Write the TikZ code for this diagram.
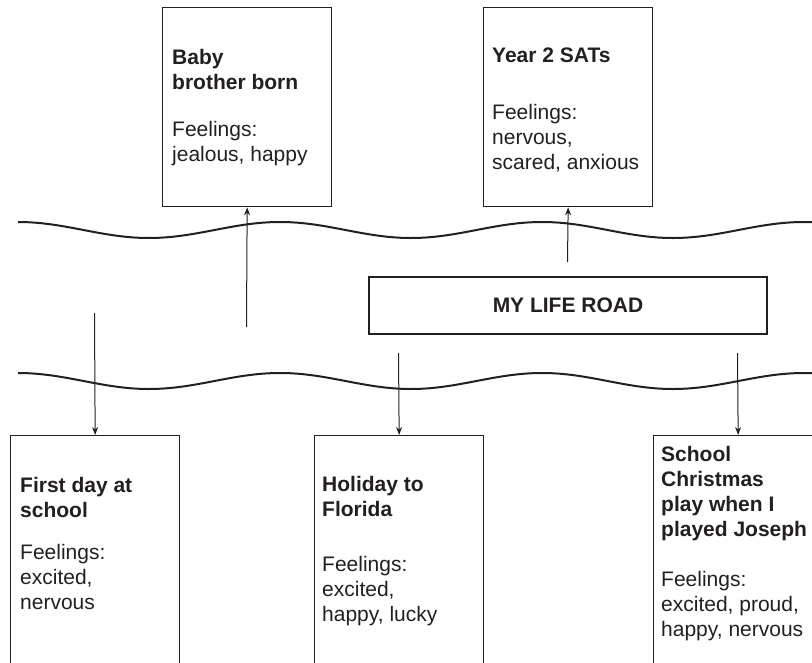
\documentclass[tikz,border=0pt]{standalone}
\usepackage{fontspec}
\setmainfont{Liberation Sans}
\usetikzlibrary{arrows.meta}
\definecolor{ink}{HTML}{231F20}
\begin{document}
\begin{tikzpicture}[x=1pt, y=-1pt,
  card/.style={draw=ink, line width=1.3pt, anchor=north west, inner sep=0pt,
               minimum width=169pt},
  words/.style={anchor=north west, inner sep=0pt, align=left, text=ink,
                font=\fontsize{21}{25}\selectfont},
  link/.style={draw=ink, line width=1pt, -{Stealth[length=8pt,width=6pt]}},
  road/.style={draw=ink, line width=2pt}]
\useasboundingbox (0,0) rectangle (812,662);
\clip (0,0) rectangle (812,662);

% the two edges of the road
\draw[road] plot[domain=18:812, samples=240, smooth] (\x, {230-8*cos((\x-18)/262*360)});
\draw[road] plot[domain=18:812, samples=240, smooth] (\x, {381-8*cos((\x-18)/262*360)});

% title box
\node[draw=ink, line width=1.3pt, minimum width=398pt, minimum height=57pt,
      text=ink, font=\fontsize{21}{25}\selectfont\bfseries] (lr) at (568,305.5) {MY LIFE ROAD};

% event cards above the road
\node[card, minimum height=199pt] (ta) at (162,7) {};
\node[card, minimum height=199pt] (tb) at (483,7) {};

% event cards below the road
\node[card, minimum height=240pt] (ba) at (10,435) {};
\node[card, minimum height=240pt] (bb) at (314,435) {};
\node[card, minimum height=240pt] (bc) at (653,435) {};

% card texts
\node[words] (ta-t) at (172,46.5) {\strut\textbf{Baby}\\\textbf{brother born}\\[22pt]Feelings:\\jealous, happy};
\node[words] (tb-t) at (492,44.5) {\strut\textbf{Year 2 SATs}\\[32pt]Feelings:\\nervous,\\scared, anxious};
\node[words] (ba-t) at (20,474.5) {\strut\textbf{First day at}\\\textbf{school}\\[17pt]Feelings:\\excited,\\nervous};
\node[words] (bb-t) at (322,473.5) {\strut\textbf{Holiday to}\\\textbf{Florida}\\[30pt]Feelings:\\excited,\\happy, lucky};
\node[words] (bc-t) at (661,443.5) {\strut\textbf{School}\\\textbf{Christmas}\\\textbf{play when I}\\\textbf{played Joseph}\\[25pt]Feelings:\\excited, proud,\\happy, nervous};

% arrows
\coordinate (u1) at (246.5,327);
\coordinate (u2) at (567.5,262);
\coordinate (d1) at (94.5,313);
\coordinate (d2) at (398.5,353);
\coordinate (d3) at (737.5,353);
\draw[link] (u1) -- (ta.south);
\draw[link] (u2) -- (tb.south);
\draw[link] (d1) -- (ba.north);
\draw[link] (d2) -- (bb.north);
\draw[link] (d3) -- (bc.north);
\end{tikzpicture}
\end{document}
